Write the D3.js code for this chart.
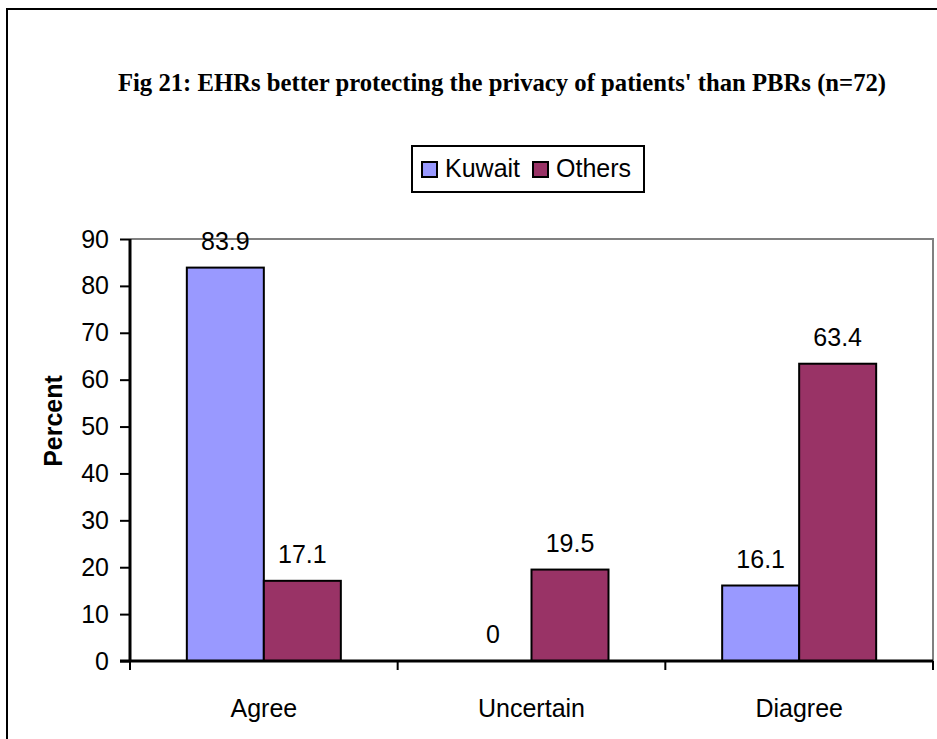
<!DOCTYPE html>
<html>
<head>
<meta charset="utf-8">
<script src="https://cdn.jsdelivr.net/npm/d3@7"></script>
<style>
  body { margin: 0; background: #fff; }
  text { font-family: Arial, "Liberation Sans", sans-serif; }
</style>
</head>
<body>
<div id="chart"></div>
<script>
// data
var categories = ["Agree", "Uncertain", "Diagree"];
var seriesNames = ["Kuwait", "Others"];
var kuwait = [83.9, 0, 16.1];
var others = [17.1, 19.5, 63.4];
var yTicks = [0, 10, 20, 30, 40, 50, 60, 70, 80, 90];
var colors = ["#9999FF", "#993366"];

var width = 937, height = 739;
var margin = {left: 130, top: 239, right: 4, bottom: 78};

var svg = d3.select("#chart").append("svg")
    .attr("width", width)
    .attr("height", height);

// outer frame
svg.append("rect")
    .attr("x", 7).attr("y", 9)
    .attr("width", 940).attr("height", 760)
    .attr("fill", "none")
    .attr("stroke", "#000")
    .attr("stroke-width", 2);

// title
svg.append("text")
    .attr("x", 502).attr("y", 91)
    .attr("text-anchor", "middle")
    .style("font-family", "'Liberation Serif', 'Times New Roman', serif")
    .style("font-weight", "bold")
    .style("font-size", "24.7px")
    .text("Fig 21: EHRs better protecting the privacy of patients' than PBRs (n=72)");

var plotW = width - margin.left - margin.right;
var plotH = height - margin.top - margin.bottom;

var g = svg.append("g")
    .attr("transform", "translate(" + margin.left + "," + margin.top + ")");

var x0 = d3.scaleBand().domain(categories).range([0, plotW]);
var x1 = d3.scaleBand().domain(seriesNames).range([0, x0.bandwidth()]).paddingOuter(0.738);
var y = d3.scaleLinear().domain([0, 90]).range([plotH, 0]);

// plot area border (top/right gray)
g.append("path")
    .attr("d", "M0,0H" + plotW + "V" + plotH)
    .attr("fill", "none")
    .attr("stroke", "#808080")
    .attr("stroke-width", 2);

var rows = categories.map(function(c, i) {
    return {cat: c, vals: [kuwait[i], others[i]]};
});

var groups = g.selectAll(".grp").data(rows).enter().append("g")
    .attr("transform", function(d) { return "translate(" + x0(d.cat) + ",0)"; });

groups.selectAll("rect").data(function(d) {
        return d.vals.map(function(v, j) { return {s: seriesNames[j], v: v, j: j}; });
    })
    .enter().append("rect")
    .filter(function(d) { return d.v > 0; })
    .attr("x", function(d) { return x1(d.s); })
    .attr("y", function(d) { return y(d.v); })
    .attr("width", x1.bandwidth())
    .attr("height", function(d) { return plotH - y(d.v); })
    .attr("fill", function(d) { return colors[d.j]; })
    .attr("stroke", "#000")
    .attr("stroke-width", 2);

groups.selectAll(".lbl").data(function(d) {
        return d.vals.map(function(v, j) { return {s: seriesNames[j], v: v}; });
    })
    .enter().append("text")
    .attr("x", function(d) { return x1(d.s) + x1.bandwidth() / 2; })
    .attr("y", function(d) { return y(d.v) - 18; })
    .attr("text-anchor", "middle")
    .style("font-size", "25px")
    .text(function(d) { return d.v; });

// y axis
var yAxis = g.append("g")
    .call(d3.axisLeft(y).tickValues(yTicks).tickSize(10).tickPadding(11));
yAxis.selectAll("text").style("font-size", "25px").attr("fill", "#000");
yAxis.selectAll("line").attr("stroke", "#000").attr("stroke-width", 2);
yAxis.select(".domain").attr("stroke", "#000").attr("stroke-width", 3)
    .attr("d", "M0," + plotH + "V0");

// x axis
var xAxis = g.append("g")
    .attr("transform", "translate(0," + plotH + ")")
    .call(d3.axisBottom(x0).tickSize(0).tickPadding(38));
xAxis.selectAll("text").style("font-size", "25px").attr("fill", "#000");
xAxis.select(".domain").attr("stroke", "#000").attr("stroke-width", 3)
    .attr("d", "M-10,0H" + plotW);
// category separator ticks
xAxis.selectAll(".sep").data(d3.range(categories.length + 1)).enter().append("line")
    .attr("x1", function(i) { return i * x0.step(); })
    .attr("x2", function(i) { return i * x0.step(); })
    .attr("y1", 0).attr("y2", 9)
    .attr("stroke", "#000").attr("stroke-width", 2);

// y label
svg.append("text")
    .attr("transform", "translate(62,421) rotate(-90)")
    .attr("text-anchor", "middle")
    .style("font-size", "25px")
    .style("font-weight", "bold")
    .text("Percent");

// legend
var legend = svg.append("g").attr("transform", "translate(412,146)");
legend.append("rect")
    .attr("width", 232).attr("height", 46)
    .attr("fill", "#fff").attr("stroke", "#000").attr("stroke-width", 2);
var legX = [10, 121];
seriesNames.forEach(function(s, i) {
    legend.append("rect")
        .attr("x", legX[i]).attr("y", 16)
        .attr("width", 15).attr("height", 15)
        .attr("fill", colors[i]).attr("stroke", "#000").attr("stroke-width", 2);
    legend.append("text")
        .attr("x", legX[i] + 23).attr("y", 31)
        .style("font-size", "25px")
        .text(s);
});
</script>
</body>
</html>
